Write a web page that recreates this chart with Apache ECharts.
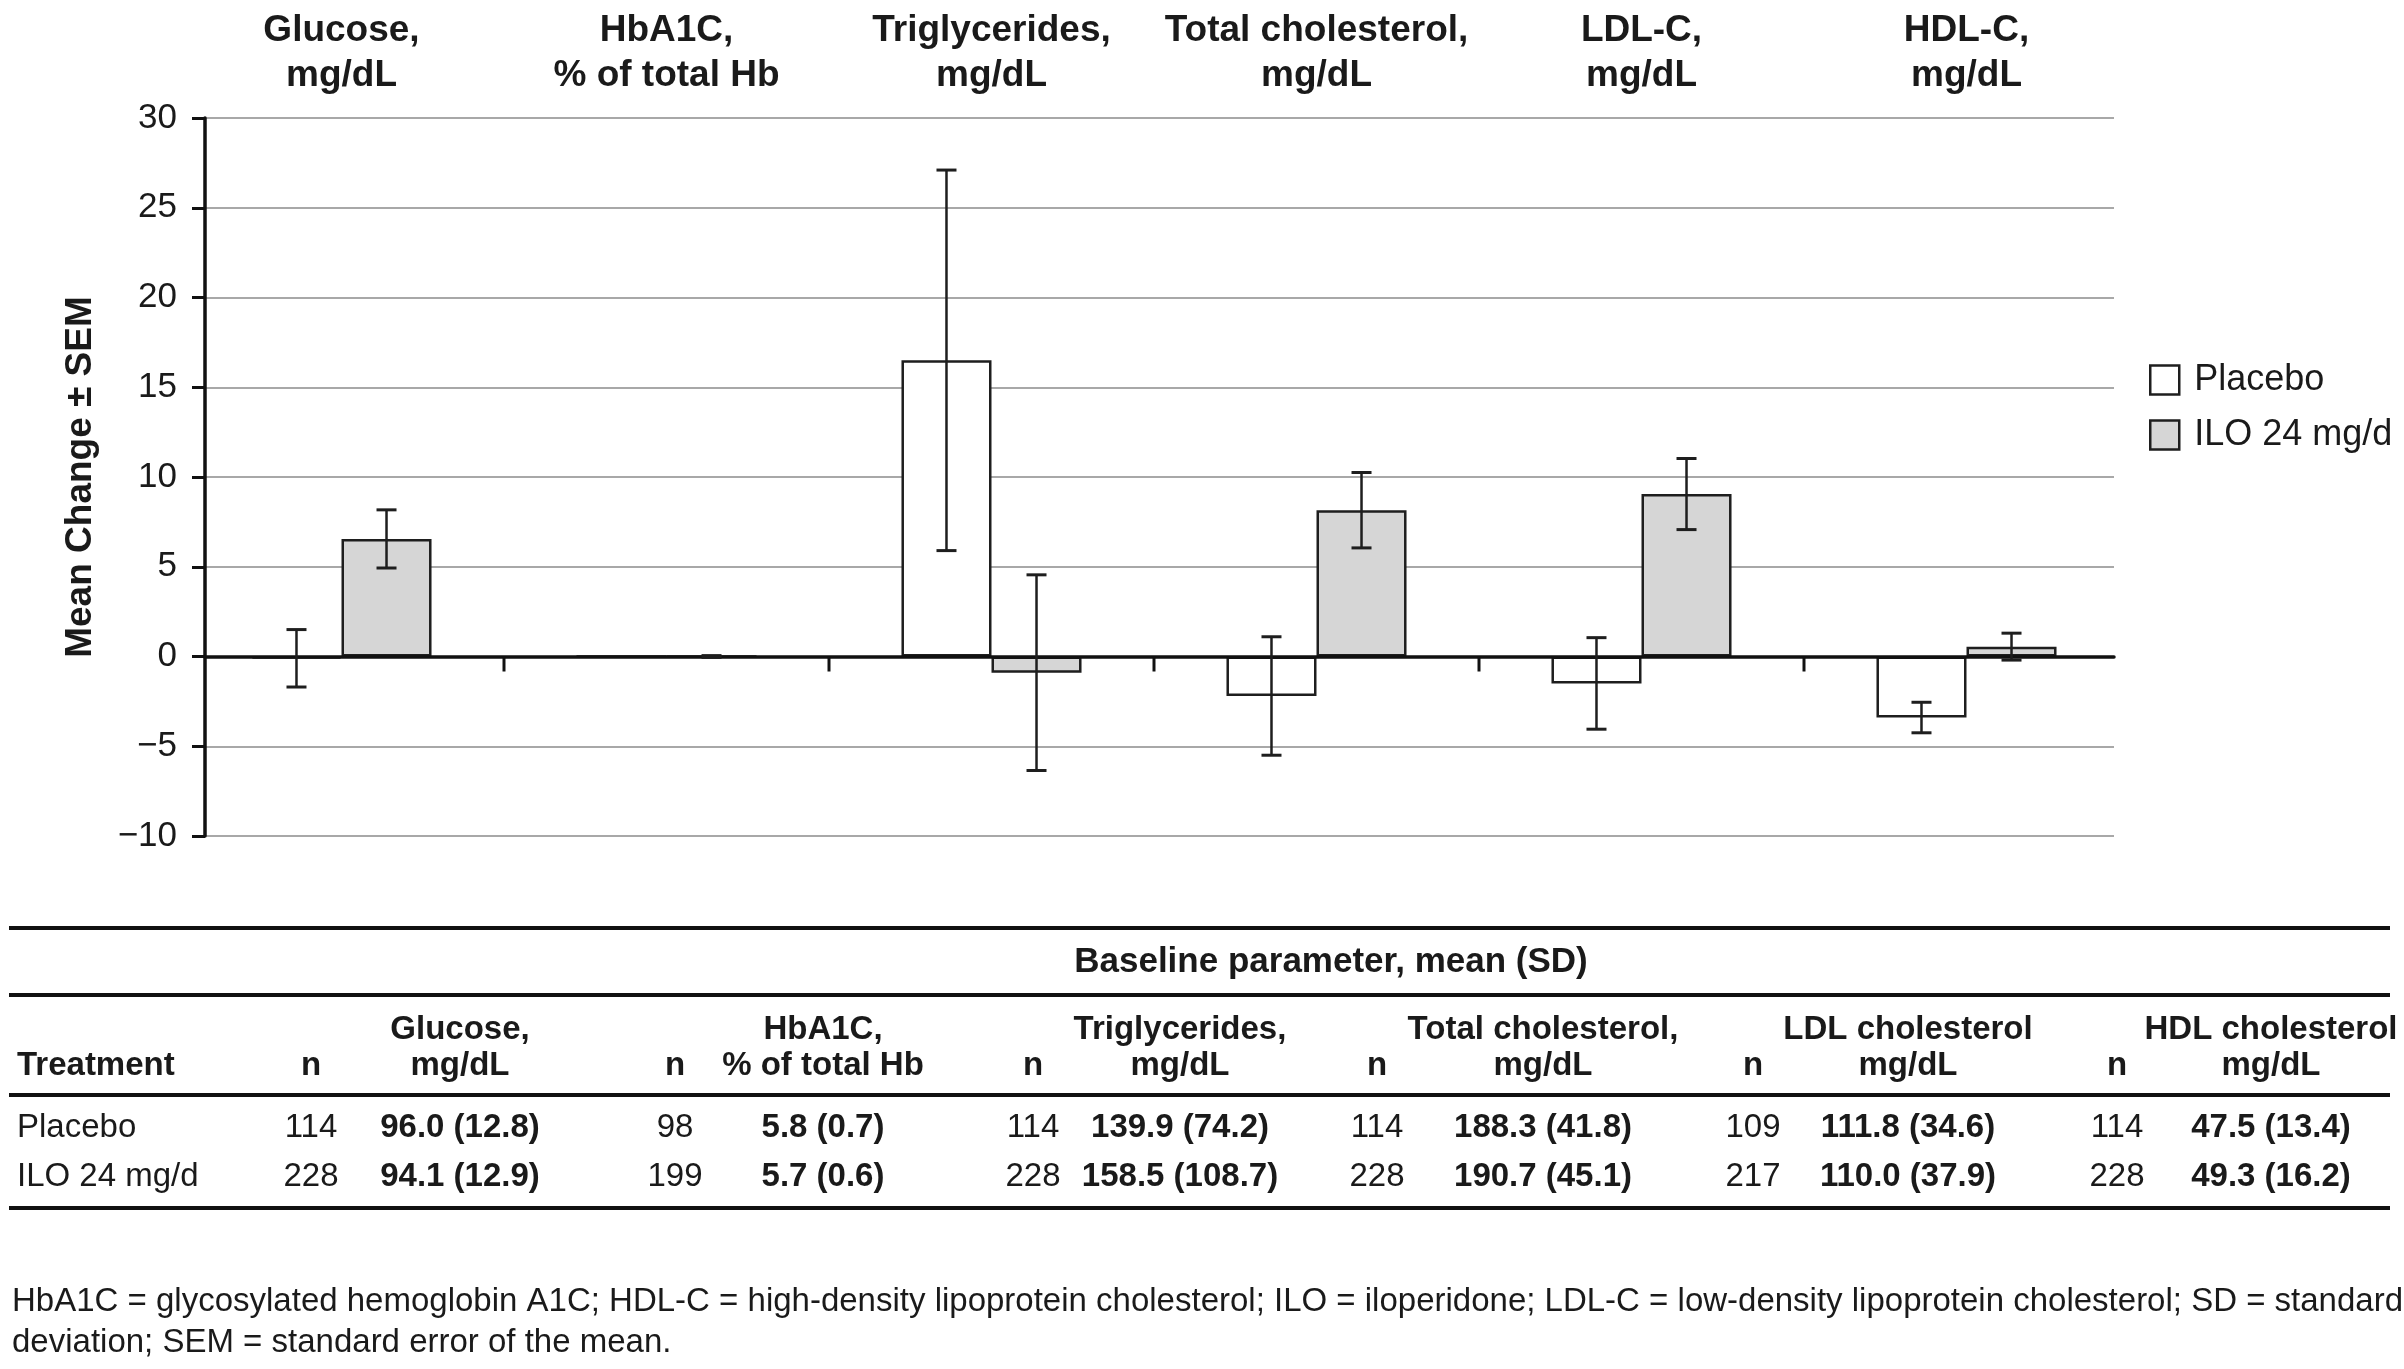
<!DOCTYPE html>
<html>
<head>
<meta charset="utf-8">
<script src="https://cdn.jsdelivr.net/npm/echarts@6/dist/echarts.min.js"></script>
<style>
html,body{margin:0;padding:0;background:#fff;}
#chart{width:2404px;height:1369px;}
</style>
</head>
<body>
<div id="chart"></div>
<script>
// ---------- data ----------
const categories = ['Glucose,\nmg/dL', 'HbA1C,\n% of total Hb', 'Triglycerides,\nmg/dL', 'Total cholesterol,\nmg/dL', 'LDL-C,\nmg/dL', 'HDL-C,\nmg/dL'];
const seriesNames = ['Placebo', 'ILO 24 mg/d'];
const placeboMean = [-0.1, 0, 16.5, -2.2, -1.5, -3.4];
const placeboSEM = [1.6, null, 10.6, 3.3, 2.55, 0.85];
const iloMean = [6.55, 0, -0.9, 8.15, 9.05, 0.55];
const iloSEM = [1.62, 0.05, 5.45, 2.1, 1.98, 0.75];
const yAxisName = 'Mean Change \u00b1 SEM';

const tableTitle = 'Baseline parameter, mean (SD)';
const tableFirstHeader = 'Treatment';
const tableNHeader = 'n';
const tableColumns = ['Glucose,\nmg/dL', 'HbA1C,\n% of total Hb', 'Triglycerides,\nmg/dL', 'Total cholesterol,\nmg/dL', 'LDL cholesterol\nmg/dL', 'HDL cholesterol\nmg/dL'];
const treatments = ['Placebo', 'ILO 24 mg/d'];
const placeboN = ['114', '98', '114', '114', '109', '114'];
const placeboBaseline = ['96.0 (12.8)', '5.8 (0.7)', '139.9 (74.2)', '188.3 (41.8)', '111.8 (34.6)', '47.5 (13.4)'];
const iloN = ['228', '199', '228', '228', '217', '228'];
const iloBaseline = ['94.1 (12.9)', '5.7 (0.6)', '158.5 (108.7)', '190.7 (45.1)', '110.0 (37.9)', '49.3 (16.2)'];
const footnote = 'HbA1C = glycosylated hemoglobin A1C; HDL-C = high-density lipoprotein cholesterol; ILO = iloperidone; LDL-C = low-density lipoprotein cholesterol; SD = standard\ndeviation; SEM = standard error of the mean.';

// ---------- layout / style ----------
const FONT = '"Liberation Sans", Arial, Helvetica, sans-serif';
const TXT = '#1a1a1a';
const BAR_FRAC = 0.277;

const errData = [];
categories.forEach((c, i) => {
  if (placeboSEM[i] != null) errData.push([i, placeboMean[i], placeboSEM[i], 0]);
  if (iloSEM[i] != null) errData.push([i, iloMean[i], iloSEM[i], 1]);
});
const tickData = categories.slice(1).map((c, i) => [i + 1]);

// table graphics
const colCenters = [460, 823, 1180, 1543, 1908, 2271];
const nCenters = [311, 675, 1033, 1377, 1753, 2117];
const rowY = [1128, 1177];
const rules = [928, 995, 1095, 1208];
const graphics = [];
rules.forEach(y => graphics.push({type: 'line', silent: true, shape: {x1: 9, y1: y, x2: 2390, y2: y}, style: {stroke: '#111', lineWidth: 4}}));
function txt(text, x, y, size, bold, align, extra) {
  graphics.push({type: 'text', silent: true, x: x, y: y, style: Object.assign({
    text: text, fill: TXT, fontSize: size, fontFamily: FONT, fontWeight: bold ? 'bold' : 'normal',
    align: align || 'center', verticalAlign: 'middle'}, extra || {})});
}
txt(tableTitle, 1331, 962, 35, true);
txt(tableFirstHeader, 17, 1066, 33, true, 'left');
tableColumns.forEach((h, i) => {
  txt(tableNHeader, nCenters[i], 1066, 33, true);
  txt(h, colCenters[i], 1048, 33, true, 'center', {lineHeight: 36});
});
const rowN = [placeboN, iloN];
const rowV = [placeboBaseline, iloBaseline];
treatments.forEach((t, r) => {
  txt(t, 17, rowY[r], 33, false, 'left');
  tableColumns.forEach((h, i) => {
    txt(rowN[r][i], nCenters[i], rowY[r], 33, false);
    txt(rowV[r][i], colCenters[i], rowY[r], 33, true);
  });
});
txt(footnote, 12, 1322, 33, false, 'left', {lineHeight: 41});

const chart = echarts.init(document.getElementById('chart'), null, {renderer: 'canvas'});
chart.setOption({
  animation: false,
  backgroundColor: '#fff',
  grid: [
    {left: 205, top: 118, width: 1909, height: 718},
    {left: 179, top: 118, width: 1950, height: 718}
  ],
  legend: {
    data: seriesNames,
    orient: 'vertical',
    left: 2144, top: 357,
    itemWidth: 29, itemHeight: 29, itemGap: 19,
    icon: 'rect',
    selectedMode: false,
    itemStyle: {borderColor: '#1e1e1e', borderWidth: 2.5},
    textStyle: {fontSize: 36, color: TXT, fontFamily: FONT, padding: [0, 0, 0, 10]}
  },
  xAxis: [
    {gridIndex: 0, type: 'value', min: 0, max: 1, z: 3,
     axisLine: {show: true, onZero: true, lineStyle: {color: '#111', width: 3.5}},
     axisTick: {show: false}, axisLabel: {show: false}, splitLine: {show: false}},
    {gridIndex: 1, type: 'category', data: categories, position: 'top',
     axisLine: {show: false, onZero: false}, axisTick: {show: false}, splitLine: {show: false},
     axisLabel: {interval: 0, margin: 20, fontSize: 37, fontWeight: 'bold', lineHeight: 45, color: TXT, fontFamily: FONT}}
  ],
  yAxis: [
    {gridIndex: 0, type: 'value', min: -10, max: 30, interval: 5,
     name: yAxisName, nameLocation: 'middle', nameGap: 106, nameRotate: 90,
     nameTextStyle: {fontSize: 37, fontWeight: 'bold', color: TXT, fontFamily: FONT},
     axisLine: {show: true, lineStyle: {color: '#111', width: 3.5}},
     axisTick: {show: true, length: 13, lineStyle: {color: '#111', width: 3}},
     axisLabel: {fontSize: 35, color: TXT, fontFamily: FONT, margin: 28,
       formatter: v => v < 0 ? '\u2212' + Math.abs(v) : String(v)},
     splitLine: {show: true, lineStyle: {color: '#a8a8a8', width: 2}}},
    {gridIndex: 1, type: 'value', min: -10, max: 30, interval: 5, show: false, splitLine: {show: false}}
  ],
  series: [
    {name: seriesNames[0], type: 'bar', xAxisIndex: 1, yAxisIndex: 1, data: placeboMean,
     barWidth: (BAR_FRAC * 100) + '%', barGap: '0%',
     itemStyle: {color: '#ffffff', borderColor: '#1e1e1e', borderWidth: 2.5}},
    {name: seriesNames[1], type: 'bar', xAxisIndex: 1, yAxisIndex: 1, data: iloMean,
     barWidth: (BAR_FRAC * 100) + '%', barGap: '0%',
     itemStyle: {color: '#d6d6d6', borderColor: '#1e1e1e', borderWidth: 2.5}},
    {type: 'custom', xAxisIndex: 1, yAxisIndex: 1, silent: true, z: 5,
     data: errData, encode: {x: 0, y: 1},
     renderItem: function (params, api) {
       const i = api.value(0), m = api.value(1), e = api.value(2), s = api.value(3);
       const band = api.size([1, 0])[0];
       const off = (s === 0 ? -1 : 1) * band * BAR_FRAC / 2;
       const hi = api.coord([i, m + e]);
       const lo = api.coord([i, m - e]);
       const x = hi[0] + off;
       const cap = 10;
       const st = {stroke: '#1e1e1e', lineWidth: 2.5};
       return {type: 'group', children: [
         {type: 'line', shape: {x1: x, y1: hi[1], x2: x, y2: lo[1]}, style: st},
         {type: 'line', shape: {x1: x - cap, y1: hi[1], x2: x + cap, y2: hi[1]}, style: {stroke: '#1e1e1e', lineWidth: 3}},
         {type: 'line', shape: {x1: x - cap, y1: lo[1], x2: x + cap, y2: lo[1]}, style: {stroke: '#1e1e1e', lineWidth: 3}}
       ]};
     }},
    {type: 'custom', xAxisIndex: 1, yAxisIndex: 1, silent: true, z: 5,
     data: tickData, encode: {x: 0},
     renderItem: function (params, api) {
       const band = api.size([1, 0])[0];
       const c = api.coord([api.value(0), 0]);
       const x = c[0] - band / 2;
       return {type: 'line', shape: {x1: x, y1: c[1], x2: x, y2: c[1] + 15}, style: {stroke: '#111', lineWidth: 3}};
     }}
  ],
  graphic: graphics
});
</script>
</body>
</html>
